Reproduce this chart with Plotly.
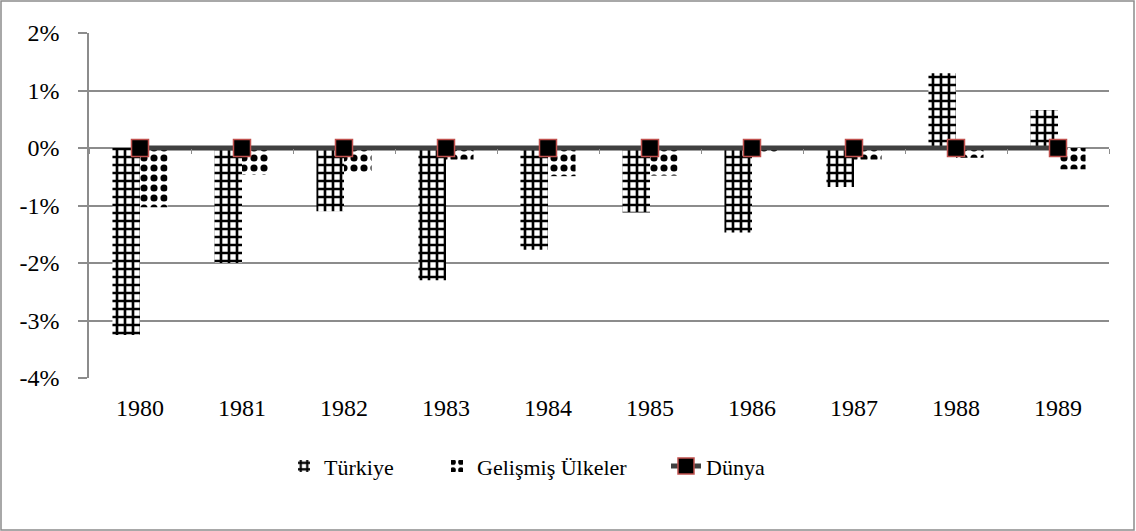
import plotly.graph_objects as go

yillar = ['1980', '1981', '1982', '1983', '1984', '1985', '1986', '1987', '1988', '1989']
turkiye = [-3.25, -2.0, -1.1, -2.3, -1.77, -1.12, -1.47, -0.68, 1.3, 0.66]
gelismis = [-1.03, -0.47, -0.42, -0.2, -0.49, -0.48, -0.1, -0.2, -0.17, -0.37]
dunya = [0, 0, 0, 0, 0, 0, 0, 0, 0, 0]
y_tikler = [-4, -3, -2, -1, 0, 1, 2]
y_etiketler = ['-4%', '-3%', '-2%', '-1%', '0%', '1%', '2%']

W, H = 1136, 531
ML, MR, MT, MB = 89, 27, 33, 153
pw = W - ML - MR
ph = H - MT - MB
FONT = 'Liberation Serif, Times New Roman, serif'
yazi = dict(family=FONT, size=22, color='black')
tik_yazi = dict(family=FONT, size=24, color='black')


def px_x(v):
    return (v - ML) / pw


fig = go.Figure()
fig.add_trace(go.Bar(
    name='Türkiye',
    x=yillar,
    y=turkiye,
    legend='legend',
    marker=dict(color='white', line=dict(width=0),
                pattern=dict(shape='+', fgcolor='black', bgcolor='white',
                             size=8, solidity=0.55, fgopacity=1)),
))
fig.add_trace(go.Bar(
    name='Gelişmiş Ülkeler',
    x=yillar,
    y=gelismis,
    legend='legend2',
    marker=dict(color='white', line=dict(width=0),
                pattern=dict(shape='.', fgcolor='black', bgcolor='white',
                             size=10, solidity=0.4, fgopacity=1)),
))
fig.add_trace(go.Scatter(
    name='Dünya',
    x=yillar,
    y=dunya,
    legend='legend3',
    mode='lines+markers',
    line=dict(color='#404040', width=5),
    marker=dict(symbol='square', size=17, color='black',
                line=dict(color='#c0504d', width=1.5)),
))
# yatay eksenin 0 çizgisi üzerindeki küçük tik işaretleri
fig.add_trace(go.Scatter(x=yillar, y=[None] * len(yillar), xaxis='x2',
                         showlegend=False, hoverinfo='skip'))

fig.add_shape(type='rect', xref='paper', yref='paper',
              x0=(1 - ML) / pw, x1=(W - ML - 2) / pw,
              y0=-(MB - 1) / ph, y1=(H - MB - 1) / ph,
              line=dict(color='#8c8c8c', width=1.5), fillcolor='rgba(0,0,0,0)')

leg = dict(orientation='h', xanchor='left', y=-0.195, yanchor='top', font=yazi,
           bgcolor='rgba(0,0,0,0)')

fig.update_layout(
    width=W, height=H,
    margin=dict(l=ML, r=MR, t=MT, b=MB, autoexpand=False),
    paper_bgcolor='white', plot_bgcolor='white',
    barmode='group', bargap=0.46, bargroupgap=0,
    font=yazi,
    showlegend=True,
    legend=dict(leg, x=px_x(284)),
    legend2=dict(leg, x=px_x(437)),
    legend3=dict(leg, x=px_x(666)),
    xaxis=dict(range=[-0.5, 9.5], showgrid=False, showline=False, ticks='',
               tickfont=tik_yazi, ticklabelstandoff=13),
    xaxis2=dict(overlaying='x', anchor='free', position=4 / 6, showgrid=False,
                showline=False, ticks='outside', ticklen=5, tickcolor='#8c8c8c',
                tickson='boundaries', showticklabels=False, matches='x'),
    yaxis=dict(range=[-4, 2], tickvals=y_tikler, ticktext=y_etiketler,
               showgrid=True, gridcolor='#8c8c8c', gridwidth=1.5,
               showline=True, linecolor='#8c8c8c', linewidth=1.5,
               ticks='outside', ticklen=9, tickcolor='#8c8c8c', tickwidth=1.5,
               zeroline=False, ticklabelstandoff=14, tickfont=tik_yazi),
)

fig.write_html('out.html', config={'displayModeBar': False},
               post_script="document.body.style.margin='0';")
